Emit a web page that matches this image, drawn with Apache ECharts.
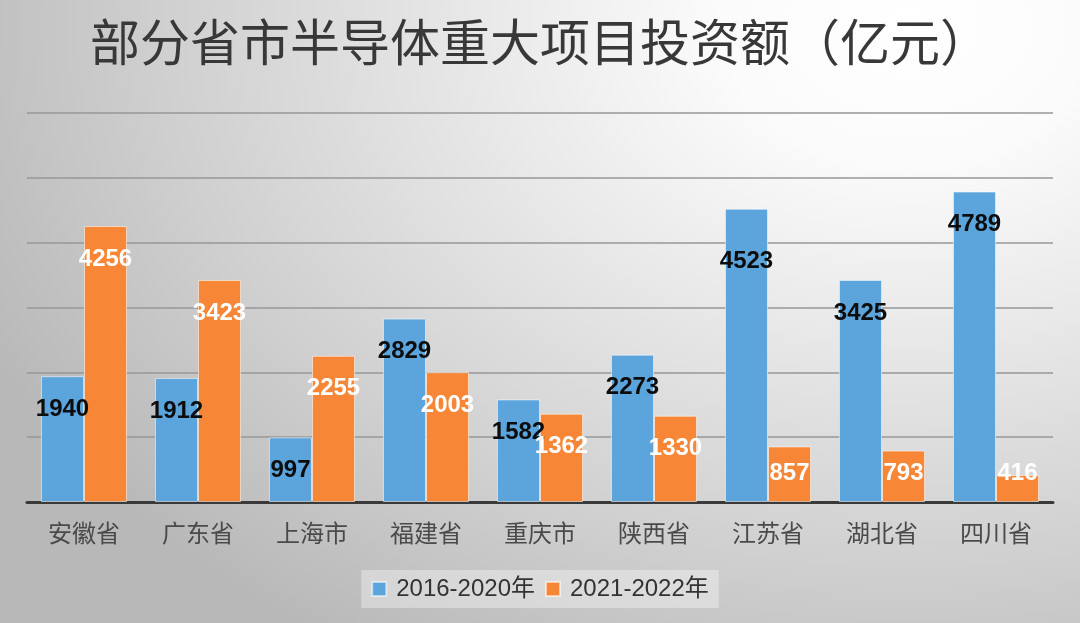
<!DOCTYPE html>
<html>
<head>
<meta charset="utf-8">
<script src="https://cdn.jsdelivr.net/npm/echarts@6/dist/echarts.min.js"></script>
<style>
html, body { margin:0; padding:0; width:1080px; height:623px; overflow:hidden; }
#chart { width:1080px; height:623px;
  background: radial-gradient(ellipse 95% 120% at 84% 4%, #ffffff 0%, #fbfbfb 18%, #e6e6e6 45%, #d0d0d0 72%, #b8b8b8 100%); }
</style>
</head>
<body>
<div id="chart"></div>
<script>
const titleText = '部分省市半导体重大项目投资额（亿元）';
const categories = ['安徽省', '广东省', '上海市', '福建省', '重庆市', '陕西省', '江苏省', '湖北省', '四川省'];
const seriesNames = ['2016-2020年', '2021-2022年'];
const values2016_2020 = [1940, 1912, 997, 2829, 1582, 2273, 4523, 3425, 4789];
const values2021_2022 = [4256, 3423, 2255, 2003, 1362, 1330, 857, 793, 416];

const labelFont = 'Liberation Sans, Arial, sans-serif';
const cjkFont = 'Liberation Sans, "Noto Sans CJK SC", sans-serif';

function makeData(vals, extraShift) {
  return vals.map(function (v, i) {
    const small = v < 925;
    const shift = extraShift && extraShift[categories[i]] ? extraShift[categories[i]] : 0;
    return {
      value: v,
      label: small
        ? { position: 'insideBottom', distance: 17 }
        : { position: 'insideTop', distance: 21 + shift }
    };
  });
}

const chart = echarts.init(document.getElementById('chart'), null, { renderer: 'canvas' });
chart.setOption({
  backgroundColor: 'transparent',
  animation: false,
  title: {
    text: titleText,
    left: 'center',
    top: 12,
    textStyle: { fontFamily: '"Noto Sans CJK SC", sans-serif', fontSize: 50, fontWeight: 'normal', color: '#383838' }
  },
  grid: { left: 27, right: 27, top: 113, bottom: 121, containLabel: false },
  legend: {
    data: seriesNames,
    left: 'center',
    top: 570,
    icon: 'rect',
    itemWidth: 14,
    itemHeight: 14,
    itemGap: 10,
    padding: [7, 10],
    backgroundColor: 'rgba(255,255,255,0.35)',
    textStyle: { fontFamily: cjkFont, fontSize: 24, color: '#333', padding: [0, 0, 0, 5] }
  },
  xAxis: {
    type: 'category',
    data: categories,
    axisLine: { show: true, lineStyle: { color: '#3a3a3a', width: 3 } },
    axisTick: { show: false },
    axisLabel: { fontFamily: cjkFont, fontSize: 24, color: '#4a4a4a', margin: 21 }
  },
  yAxis: {
    type: 'value',
    min: 0, max: 6000, interval: 1000,
    axisLabel: { show: false },
    axisLine: { show: false },
    axisTick: { show: false },
    splitLine: { lineStyle: { color: '#979797', width: 1.5 } }
  },
  series: [
    {
      name: seriesNames[0],
      type: 'bar',
      barGap: '0%',
      barCategoryGap: '24.5%',
      data: makeData(values2016_2020, { '江苏省': 20 }),
      itemStyle: { color: '#5ba4dc', borderColor: 'rgba(255,255,255,0.55)', borderWidth: 1 },
      label: { show: true, color: '#0d0d0d', fontFamily: labelFont, fontWeight: 'bold', fontSize: 24, lineHeight: 24 }
    },
    {
      name: seriesNames[1],
      type: 'bar',
      data: makeData(values2021_2022),
      itemStyle: { color: '#f78736', borderColor: 'rgba(255,255,255,0.55)', borderWidth: 1 },
      label: { show: true, color: '#ffffff', fontFamily: labelFont, fontWeight: 'bold', fontSize: 24, lineHeight: 24 }
    }
  ]
});
</script>
</body>
</html>
